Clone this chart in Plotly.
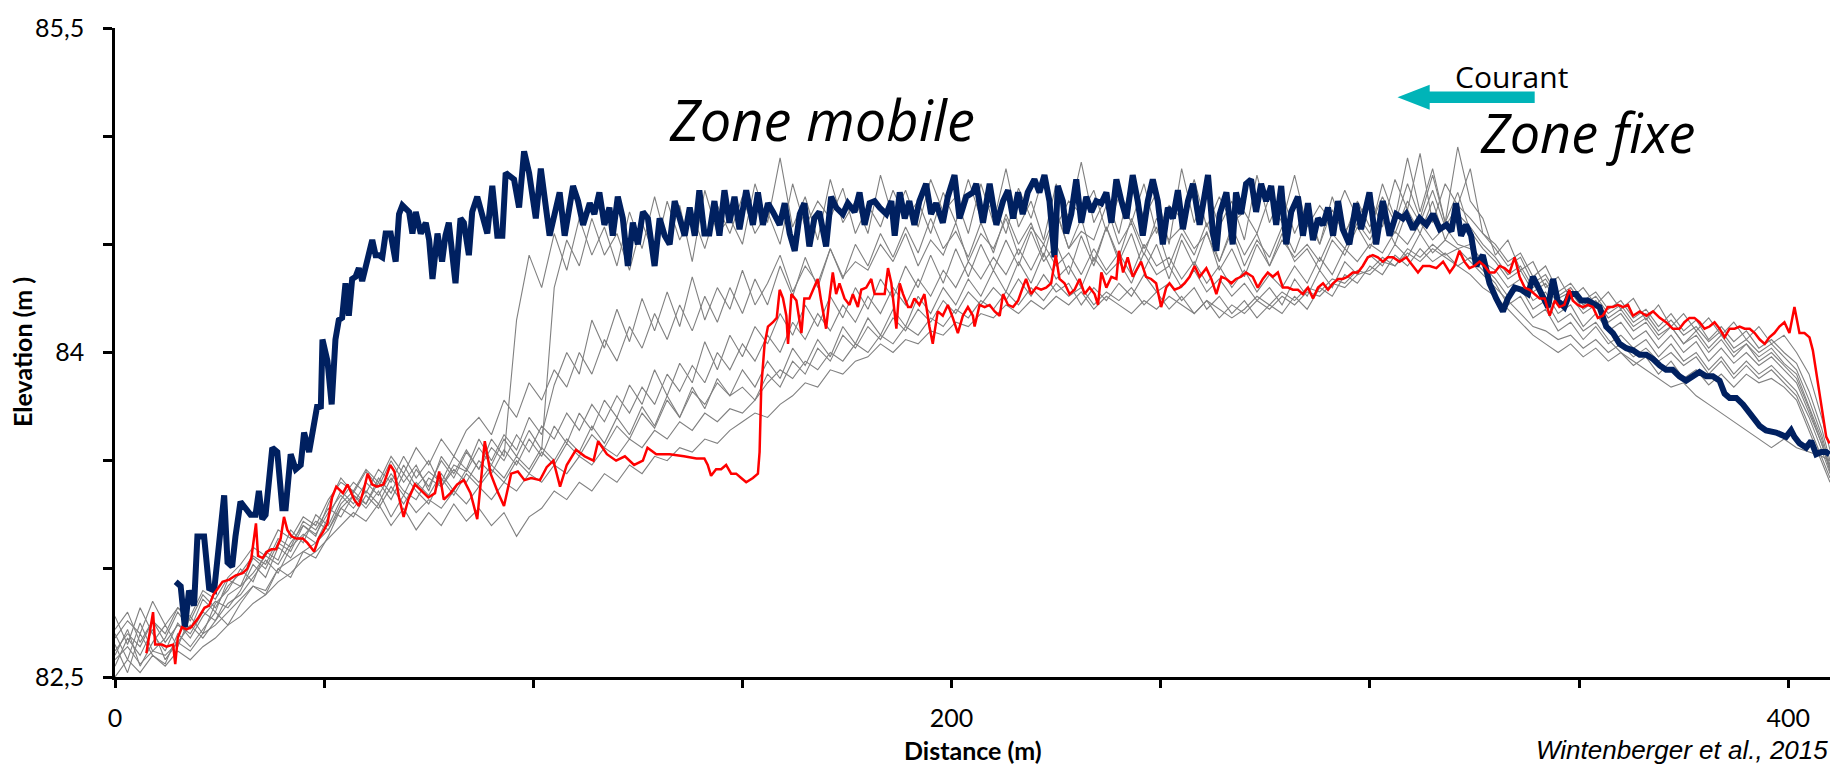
import plotly.graph_objects as go

# ---------------- data ----------------
# thick navy profile: (distance m, elevation m)
BLUE = [
    (14.5, 82.94), (15.7, 82.92), (16.7, 82.73), (17.7, 82.90), (18.9, 82.83), (19.7, 83.15), (21.3, 83.15),
    (22.5, 82.91), (23.7, 82.90), (24.9, 83.15), (26.1, 83.34), (26.9, 83.03), (28.0, 83.01), (28.8, 83.15),
    (30.0, 83.31), (31.2, 83.28), (32.4, 83.25), (33.6, 83.25), (34.4, 83.36), (35.2, 83.23), (36.0, 83.25),
    (37.6, 83.56), (38.8, 83.54), (40.0, 83.28), (40.8, 83.28), (42.0, 83.53), (43.2, 83.46), (44.4, 83.48),
    (45.2, 83.63), (46.4, 83.54), (47.2, 83.64), (48.4, 83.76), (49.2, 83.74), (49.6, 84.06), (50.8, 83.96),
    (51.8, 83.76), (52.7, 84.06), (53.5, 84.15), (54.3, 84.16), (55.1, 84.32), (55.9, 84.17), (56.7, 84.34),
    (57.5, 84.35), (58.3, 84.39), (59.1, 84.33), (59.9, 84.40), (60.7, 84.44), (61.5, 84.52), (62.3, 84.45),
    (63.1, 84.45), (63.9, 84.44), (64.7, 84.55), (65.9, 84.55), (67.1, 84.42), (67.9, 84.64), (68.7, 84.68),
    (70.3, 84.65), (71.1, 84.55), (71.9, 84.65), (73.1, 84.55), (74.3, 84.60), (75.1, 84.52), (75.9, 84.34),
    (77.1, 84.55), (78.2, 84.42), (79.0, 84.54), (79.8, 84.60), (80.6, 84.42), (81.4, 84.32), (82.6, 84.62),
    (83.4, 84.60), (84.6, 84.45), (85.4, 84.65), (86.6, 84.72), (87.8, 84.64), (89.0, 84.55), (90.2, 84.77),
    (91.4, 84.54), (92.6, 84.54), (93.4, 84.83), (95.4, 84.80), (96.6, 84.67), (97.8, 84.93), (99.0, 84.83),
    (100.6, 84.62), (101.8, 84.85), (103.9, 84.54), (105.1, 84.65), (106.3, 84.74), (107.5, 84.54),
    (109.5, 84.77), (110.7, 84.70), (111.9, 84.59), (113.5, 84.69), (114.6, 84.64), (115.8, 84.74),
    (117.0, 84.59), (118.2, 84.67), (119.0, 84.54), (120.2, 84.72), (121.4, 84.62), (122.6, 84.40),
    (123.8, 84.60), (125.0, 84.50), (126.2, 84.65), (127.4, 84.62), (129.0, 84.40), (130.2, 84.62),
    (131.4, 84.54), (132.6, 84.50), (133.8, 84.70), (135.0, 84.62), (136.2, 84.54), (137.4, 84.67),
    (138.6, 84.54), (139.7, 84.75), (140.9, 84.55), (142.1, 84.55), (143.3, 84.70), (144.5, 84.54),
    (145.7, 84.75), (146.9, 84.60), (148.1, 84.72), (149.3, 84.57), (150.9, 84.75), (152.5, 84.59),
    (153.7, 84.74), (154.9, 84.59), (156.1, 84.69), (157.3, 84.65), (158.9, 84.59), (160.1, 84.69),
    (161.3, 84.55), (162.5, 84.47), (163.7, 84.64), (164.8, 84.69), (166.0, 84.49), (167.2, 84.62),
    (168.4, 84.65), (170.0, 84.49), (171.2, 84.72), (172.4, 84.67), (174.0, 84.64), (175.2, 84.69),
    (176.8, 84.65), (178.0, 84.74), (179.2, 84.59), (180.4, 84.69), (181.6, 84.70), (182.8, 84.67),
    (184.4, 84.64), (185.6, 84.70), (186.4, 84.54), (187.6, 84.74), (188.8, 84.62), (189.9, 84.70),
    (191.1, 84.59), (192.3, 84.70), (193.9, 84.78), (195.1, 84.64), (196.3, 84.69), (197.9, 84.60),
    (199.1, 84.72), (200.7, 84.82), (201.9, 84.62), (203.5, 84.72), (205.1, 84.74), (205.9, 84.78),
    (207.5, 84.60), (209.1, 84.78), (210.7, 84.59), (212.3, 84.70), (213.5, 84.75), (214.7, 84.62),
    (215.9, 84.74), (217.0, 84.64), (218.2, 84.74), (219.8, 84.80), (221.0, 84.74), (222.2, 84.82),
    (223.4, 84.70), (224.6, 84.44), (225.4, 84.77), (226.6, 84.70), (227.4, 84.55), (228.6, 84.64),
    (229.8, 84.80), (231.0, 84.60), (232.2, 84.72), (233.4, 84.65), (234.6, 84.70), (235.8, 84.69),
    (237.0, 84.74), (238.2, 84.60), (239.4, 84.80), (240.6, 84.70), (241.8, 84.62), (243.3, 84.82),
    (244.5, 84.70), (245.7, 84.54), (246.9, 84.70), (248.1, 84.80), (249.3, 84.70), (250.5, 84.50),
    (251.7, 84.67), (252.9, 84.62), (254.1, 84.75), (255.3, 84.57), (256.5, 84.70), (257.7, 84.78),
    (259.3, 84.59), (261.3, 84.82), (262.5, 84.55), (263.3, 84.47), (264.1, 84.64), (265.7, 84.74),
    (267.2, 84.50), (268.0, 84.74), (269.2, 84.64), (270.4, 84.78), (271.6, 84.80), (272.8, 84.65),
    (274.0, 84.78), (275.2, 84.70), (276.4, 84.77), (277.6, 84.59), (278.8, 84.77), (280.0, 84.50),
    (281.2, 84.65), (282.8, 84.72), (284.0, 84.54), (285.2, 84.69), (286.4, 84.52), (287.6, 84.62),
    (288.8, 84.59), (290.0, 84.67), (291.2, 84.54), (292.4, 84.70), (293.5, 84.57), (295.1, 84.50),
    (296.7, 84.69), (297.9, 84.57), (299.9, 84.74), (301.5, 84.50), (303.1, 84.70), (304.7, 84.54),
    (306.3, 84.64), (307.9, 84.62), (308.7, 84.64), (310.3, 84.57), (311.9, 84.62), (313.5, 84.59),
    (315.1, 84.64), (316.7, 84.57), (318.3, 84.59), (319.5, 84.56), (320.6, 84.69), (321.8, 84.54),
    (323.0, 84.59), (324.2, 84.54), (325.4, 84.40), (327.0, 84.45), (328.6, 84.32), (330.2, 84.25),
    (331.8, 84.19), (333.0, 84.25), (334.6, 84.30), (336.2, 84.29), (337.8, 84.27), (339.0, 84.35),
    (340.2, 84.30), (341.4, 84.25), (342.6, 84.21), (343.8, 84.34), (344.9, 84.24), (346.5, 84.21),
    (347.7, 84.27), (349.3, 84.27), (350.5, 84.24), (352.1, 84.24), (353.7, 84.22), (354.9, 84.21),
    (356.5, 84.12), (358.1, 84.09), (359.7, 84.04), (361.3, 84.02), (362.9, 84.01), (364.5, 83.99),
    (366.1, 83.99), (367.7, 83.97), (369.3, 83.94), (370.8, 83.92), (372.4, 83.92), (374.0, 83.89),
    (375.6, 83.87), (377.2, 83.89), (378.8, 83.91), (380.4, 83.89), (382.0, 83.89), (383.6, 83.87),
    (384.8, 83.81), (386.0, 83.79), (387.6, 83.79), (389.2, 83.76), (390.4, 83.73), (391.6, 83.71),
    (393.2, 83.66), (394.7, 83.64), (397.1, 83.63), (399.5, 83.61), (400.7, 83.64), (401.5, 83.61),
    (402.7, 83.58), (404.3, 83.56), (405.5, 83.59), (406.7, 83.53), (407.9, 83.54), (409.1, 83.54),
    (409.9, 83.53),
]

# red profile
RED = [
    (7.5, 82.61), (9.1, 82.80), (9.6, 82.65), (11.2, 82.65), (12.3, 82.64), (13.9, 82.65), (14.4, 82.56),
    (15.0, 82.68), (16.0, 82.73), (17.1, 82.72), (18.2, 82.73), (19.8, 82.77), (21.4, 82.82), (22.5, 82.83),
    (23.5, 82.88), (24.6, 82.91), (25.7, 82.94), (27.3, 82.95), (28.9, 82.97), (30.5, 82.98), (31.6, 83.00),
    (32.6, 83.05), (33.7, 83.21), (34.2, 83.06), (35.3, 83.05), (36.4, 83.08), (37.4, 83.09), (38.5, 83.09),
    (39.6, 83.14), (40.4, 83.24), (41.2, 83.18), (42.2, 83.15), (43.3, 83.14), (44.9, 83.14), (46.0, 83.12),
    (47.6, 83.08), (48.7, 83.14), (49.7, 83.17), (50.8, 83.21), (51.9, 83.33), (52.9, 83.38), (54.5, 83.35),
    (55.6, 83.39), (57.2, 83.32), (58.3, 83.29), (59.4, 83.36), (60.4, 83.44), (61.5, 83.39), (62.6, 83.38),
    (64.2, 83.39), (65.8, 83.48), (66.8, 83.45), (67.9, 83.33), (69.0, 83.24), (70.1, 83.32), (71.7, 83.39),
    (73.3, 83.36), (74.9, 83.33), (76.5, 83.35), (77.5, 83.45), (78.6, 83.32), (80.2, 83.35), (81.8, 83.39),
    (83.4, 83.41), (85.0, 83.35), (86.6, 83.23), (87.7, 83.45), (88.4, 83.59), (89.8, 83.44), (91.4, 83.36),
    (93.0, 83.29), (94.7, 83.44), (96.3, 83.45), (97.9, 83.41), (99.5, 83.42), (101.6, 83.41), (103.2, 83.47),
    (104.8, 83.50), (106.4, 83.38), (108.0, 83.48), (110.2, 83.55), (112.3, 83.52), (114.4, 83.50),
    (115.5, 83.59), (117.6, 83.53), (119.8, 83.50), (121.9, 83.52), (124.1, 83.48), (126.2, 83.50),
    (127.3, 83.56), (129.4, 83.53), (132.6, 83.53), (136.0, 83.52), (139.0, 83.51), (140.9, 83.51),
    (141.7, 83.48), (142.5, 83.43), (143.7, 83.46), (144.9, 83.46), (146.1, 83.48), (147.3, 83.44),
    (148.5, 83.44), (149.7, 83.42), (150.9, 83.40), (152.5, 83.42), (153.7, 83.44), (154.1, 83.54),
    (154.5, 83.84), (155.3, 84.04), (156.1, 84.12), (157.3, 84.14), (158.2, 84.16), (158.9, 84.29),
    (159.7, 84.25), (160.5, 84.17), (160.9, 84.04), (161.7, 84.27), (162.9, 84.24), (164.1, 84.09),
    (164.8, 84.25), (166.0, 84.25), (167.2, 84.30), (168.0, 84.34), (168.8, 84.24), (170.0, 84.11),
    (170.8, 84.25), (171.6, 84.37), (172.4, 84.27), (173.2, 84.32), (174.4, 84.25), (175.6, 84.22),
    (176.4, 84.27), (177.6, 84.21), (178.4, 84.29), (179.6, 84.30), (180.8, 84.34), (181.6, 84.27),
    (182.8, 84.27), (184.0, 84.27), (184.8, 84.39), (185.6, 84.32), (186.8, 84.11), (187.6, 84.32),
    (188.4, 84.27), (189.6, 84.21), (190.3, 84.21), (191.1, 84.25), (192.3, 84.22), (193.5, 84.27),
    (194.7, 84.12), (195.5, 84.04), (196.7, 84.19), (197.9, 84.17), (199.1, 84.22), (200.3, 84.16),
    (201.5, 84.09), (202.7, 84.17), (203.9, 84.21), (205.1, 84.17), (205.5, 84.12), (206.7, 84.22),
    (207.9, 84.21), (209.1, 84.22), (210.3, 84.19), (211.5, 84.17), (212.3, 84.27), (213.5, 84.22),
    (214.7, 84.21), (215.9, 84.24), (217.0, 84.30), (217.8, 84.34), (219.0, 84.27), (220.2, 84.30),
    (221.4, 84.29), (222.6, 84.30), (223.8, 84.32), (224.9, 84.45), (225.8, 84.34), (227.0, 84.32),
    (228.2, 84.27), (229.4, 84.29), (230.6, 84.34), (231.8, 84.27), (233.0, 84.30), (234.2, 84.27),
    (235.0, 84.22), (235.8, 84.37), (237.0, 84.30), (238.2, 84.35), (239.4, 84.34), (240.0, 84.47),
    (241.0, 84.37), (242.1, 84.44), (243.3, 84.35), (244.5, 84.39), (245.3, 84.42), (246.5, 84.35),
    (247.7, 84.34), (248.9, 84.32), (250.1, 84.21), (251.3, 84.30), (252.1, 84.32), (253.3, 84.29),
    (254.5, 84.30), (255.7, 84.32), (256.9, 84.35), (258.1, 84.40), (259.3, 84.35), (260.9, 84.39),
    (262.1, 84.34), (263.3, 84.27), (264.5, 84.35), (265.7, 84.34), (266.9, 84.32), (268.0, 84.34),
    (269.2, 84.35), (270.4, 84.37), (272.0, 84.35), (273.2, 84.30), (274.4, 84.34), (275.6, 84.37),
    (276.8, 84.35), (278.0, 84.37), (279.2, 84.30), (280.4, 84.30), (281.6, 84.29), (282.8, 84.29),
    (284.0, 84.27), (285.2, 84.30), (286.4, 84.25), (287.6, 84.30), (288.8, 84.32), (290.0, 84.29),
    (291.2, 84.32), (292.4, 84.34), (293.5, 84.34), (294.7, 84.35), (295.9, 84.37), (297.1, 84.37),
    (298.3, 84.40), (299.5, 84.44), (300.7, 84.45), (301.9, 84.44), (303.1, 84.42), (304.3, 84.44),
    (305.5, 84.44), (307.1, 84.42), (308.7, 84.44), (310.3, 84.40), (311.5, 84.37), (312.7, 84.40),
    (314.3, 84.40), (315.9, 84.39), (317.5, 84.42), (319.1, 84.37), (320.2, 84.40), (321.4, 84.47),
    (322.6, 84.42), (323.8, 84.39), (325.0, 84.40), (326.2, 84.42), (327.4, 84.40), (328.6, 84.37),
    (329.8, 84.37), (331.0, 84.40), (332.2, 84.39), (333.4, 84.37), (334.6, 84.44), (335.8, 84.35),
    (337.0, 84.30), (338.2, 84.29), (339.4, 84.27), (340.6, 84.25), (341.8, 84.25), (343.0, 84.17),
    (344.2, 84.24), (345.3, 84.21), (346.5, 84.22), (347.7, 84.29), (348.5, 84.24), (349.7, 84.22),
    (350.9, 84.21), (352.1, 84.22), (353.3, 84.21), (354.5, 84.16), (355.7, 84.17), (356.9, 84.21),
    (358.1, 84.21), (359.3, 84.22), (360.5, 84.21), (361.7, 84.22), (362.9, 84.17), (364.5, 84.19),
    (366.1, 84.17), (367.7, 84.19), (369.3, 84.16), (370.8, 84.14), (372.4, 84.11), (374.0, 84.11),
    (375.2, 84.14), (376.4, 84.16), (377.6, 84.16), (378.8, 84.14), (380.0, 84.11), (381.2, 84.12),
    (382.4, 84.14), (383.6, 84.11), (384.8, 84.07), (386.0, 84.11), (387.2, 84.11), (388.4, 84.12),
    (389.6, 84.11), (390.8, 84.11), (392.0, 84.09), (393.2, 84.06), (394.4, 84.04), (395.5, 84.07),
    (396.7, 84.09), (397.9, 84.12), (399.1, 84.14), (400.3, 84.09), (401.5, 84.21), (402.7, 84.09),
    (403.9, 84.09), (405.1, 84.07), (405.9, 84.01), (406.7, 83.91), (407.5, 83.82), (408.3, 83.71),
    (409.1, 83.61), (409.9, 83.58),
]

# grey profiles, sampled every 3 m (0 ... 408) plus 410
GREY_X = list(range(0, 409, 3)) + [410]

GREY_1 = [
    82.70, 82.58, 82.75, 82.62, 82.68, 82.80, 82.72, 82.86, 82.80, 82.95,
    82.92, 83.05, 83.00, 83.12, 83.08, 83.20, 83.15, 83.30, 83.42, 83.35,
    83.45, 83.38, 83.50, 83.40, 83.48, 83.36, 83.52, 83.44, 83.55, 83.46,
    83.60, 83.52, 84.15, 84.45, 84.30, 84.55, 84.38, 84.62, 84.45, 84.58,
    84.40, 84.65, 84.48, 84.72, 84.50, 84.68, 84.42, 84.75, 84.55, 84.62,
    84.50, 84.78, 84.60, 84.90, 84.58, 84.72, 84.52, 84.80, 84.60, 84.70,
    84.55, 84.82, 84.62, 84.75, 84.58, 84.80, 84.65, 84.72, 84.55, 84.78,
    84.60, 84.85, 84.58, 84.70, 84.52, 84.78, 84.62, 84.88, 84.60, 84.72,
    84.55, 84.80, 84.62, 84.74, 84.50, 84.85, 84.60, 84.76, 84.58, 84.70,
    84.52, 84.82, 84.60, 84.74, 84.55, 84.68, 84.50, 84.72, 84.56, 84.64,
    84.55, 84.78, 84.62, 84.90, 84.65, 84.85, 84.60, 84.95, 84.70, 84.62,
    84.45, 84.52, 84.38, 84.42, 84.30, 84.35, 84.25, 84.30, 84.22, 84.28,
    84.20, 84.25, 84.15, 84.22, 84.12, 84.18, 84.10, 84.16, 84.08, 84.14,
    84.06, 84.12, 84.04, 84.08, 84.00, 83.90, 83.70, 83.55,
]
GREY_2 = [
    82.60, 82.72, 82.55, 82.66, 82.74, 82.64, 82.78, 82.70, 82.84, 82.90,
    83.00, 82.94, 83.08, 83.04, 83.18, 83.12, 83.25, 83.20, 83.32, 83.40,
    83.35, 83.46, 83.40, 83.52, 83.42, 83.50, 83.38, 83.48, 83.45, 83.56,
    83.48, 83.60, 83.52, 83.64, 83.55, 84.30, 84.52, 84.40, 84.62, 84.45,
    84.55, 84.38, 84.60, 84.45, 84.70, 84.52, 84.64, 84.48, 84.68, 84.55,
    84.72, 84.55, 84.65, 84.50, 84.78, 84.58, 84.70, 84.62, 84.76, 84.55,
    84.68, 84.58, 84.75, 84.62, 84.70, 84.55, 84.74, 84.60, 84.80, 84.62,
    84.70, 84.55, 84.76, 84.62, 84.82, 84.58, 84.70, 84.64, 84.75, 84.56,
    84.72, 84.60, 84.78, 84.55, 84.68, 84.62, 84.80, 84.58, 84.72, 84.60,
    84.65, 84.55, 84.72, 84.60, 84.82, 84.58, 84.68, 84.60, 84.75, 84.62,
    84.72, 84.58, 84.80, 84.66, 84.92, 84.60, 84.78, 84.68, 84.85, 84.55,
    84.50, 84.42, 84.46, 84.35, 84.40, 84.28, 84.32, 84.24, 84.28, 84.20,
    84.24, 84.16, 84.20, 84.12, 84.18, 84.10, 84.15, 84.06, 84.12, 84.05,
    84.10, 84.02, 84.06, 84.00, 83.95, 83.82, 83.65, 83.50,
]
GREY_3 = [
    82.78, 82.65, 82.82, 82.70, 82.62, 82.75, 82.68, 82.78, 82.85, 82.82,
    82.90, 83.02, 82.96, 83.10, 83.05, 83.15, 83.22, 83.18, 83.30, 83.36,
    83.30, 83.42, 83.35, 83.48, 83.38, 83.45, 83.40, 83.52, 83.46, 83.60,
    83.50, 83.62, 83.55, 83.70, 83.62, 83.85, 84.00, 83.90, 84.15, 84.02,
    84.20, 84.05, 84.25, 84.10, 84.28, 84.12, 84.35, 84.15, 84.30, 84.20,
    84.38, 84.22, 84.32, 84.45, 84.28, 84.40, 84.32, 84.48, 84.35, 84.42,
    84.38, 84.50, 84.42, 84.55, 84.40, 84.52, 84.45, 84.60, 84.42, 84.55,
    84.48, 84.62, 84.45, 84.58, 84.50, 84.65, 84.48, 84.56, 84.52, 84.68,
    84.50, 84.60, 84.45, 84.62, 84.52, 84.58, 84.48, 84.55, 84.42, 84.58,
    84.45, 84.55, 84.40, 84.52, 84.44, 84.50, 84.42, 84.55, 84.48, 84.60,
    84.52, 84.65, 84.55, 84.70, 84.60, 84.75, 84.58, 84.68, 84.62, 84.55,
    84.48, 84.40, 84.44, 84.32, 84.36, 84.26, 84.30, 84.22, 84.26, 84.18,
    84.22, 84.14, 84.18, 84.10, 84.15, 84.08, 84.12, 84.05, 84.10, 84.02,
    84.06, 84.00, 84.04, 83.98, 83.92, 83.78, 83.62, 83.48,
]
GREY_4 = [
    82.55, 82.68, 82.60, 82.72, 82.58, 82.66, 82.74, 82.68, 82.76, 82.84,
    82.88, 82.96, 83.04, 82.98, 83.10, 83.16, 83.12, 83.24, 83.36, 83.30,
    83.40, 83.34, 83.44, 83.36, 83.32, 83.42, 83.38, 83.46, 83.40, 83.50,
    83.44, 83.55, 83.48, 83.60, 83.52, 83.66, 83.58, 83.72, 83.64, 83.78,
    83.70, 83.85, 83.76, 83.92, 83.80, 83.95, 83.86, 84.05, 83.92, 84.08,
    83.98, 84.12, 84.04, 84.18, 84.08, 84.22, 84.12, 84.26, 84.16, 84.30,
    84.20, 84.34, 84.25, 84.40, 84.30, 84.45, 84.32, 84.48, 84.35, 84.50,
    84.38, 84.52, 84.40, 84.56, 84.42, 84.50, 84.36, 84.54, 84.40, 84.58,
    84.42, 84.55, 84.38, 84.50, 84.34, 84.52, 84.40, 84.56, 84.38, 84.48,
    84.35, 84.50, 84.40, 84.55, 84.42, 84.48, 84.38, 84.52, 84.45, 84.58,
    84.48, 84.62, 84.50, 84.66, 84.55, 84.70, 84.52, 84.64, 84.58, 84.50,
    84.44, 84.36, 84.40, 84.30, 84.34, 84.25, 84.28, 84.20, 84.24, 84.16,
    84.20, 84.12, 84.16, 84.08, 84.12, 84.04, 84.10, 84.02, 84.08, 84.00,
    84.04, 83.98, 84.02, 83.95, 83.90, 83.75, 83.60, 83.46,
]
GREY_5 = [
    82.65, 82.52, 82.70, 82.60, 82.56, 82.70, 82.64, 82.72, 82.80, 82.74,
    82.84, 82.92, 82.88, 83.00, 82.96, 83.08, 83.05, 83.15, 83.28, 83.24,
    83.34, 83.28, 83.38, 83.30, 83.40, 83.34, 83.44, 83.36, 83.46, 83.40,
    83.48, 83.42, 83.52, 83.46, 83.56, 83.50, 83.60, 83.54, 83.66, 83.58,
    83.70, 83.62, 83.75, 83.66, 83.80, 83.70, 83.84, 83.74, 83.88, 83.80,
    83.92, 83.84, 83.96, 83.88, 84.02, 83.94, 84.06, 83.98, 84.12, 84.04,
    84.16, 84.08, 84.20, 84.12, 84.26, 84.18, 84.30, 84.22, 84.34, 84.26,
    84.38, 84.28, 84.42, 84.32, 84.46, 84.34, 84.40, 84.30, 84.44, 84.36,
    84.42, 84.32, 84.46, 84.36, 84.40, 84.30, 84.38, 84.28, 84.34, 84.26,
    84.32, 84.24, 84.30, 84.22, 84.34, 84.26, 84.38, 84.30, 84.42, 84.36,
    84.45, 84.40, 84.50, 84.44, 84.55, 84.46, 84.52, 84.48, 84.50, 84.42,
    84.38, 84.30, 84.34, 84.24, 84.28, 84.18, 84.22, 84.12, 84.18, 84.10,
    84.14, 84.06, 84.10, 84.02, 84.08, 84.00, 84.05, 83.96, 84.02, 83.95,
    84.00, 83.94, 83.98, 83.92, 83.86, 83.72, 83.58, 83.45,
]
GREY_6 = [
    82.72, 82.80, 82.66, 82.76, 82.70, 82.82, 82.76, 82.88, 82.82, 82.92,
    82.98, 83.06, 83.02, 83.14, 83.10, 83.22, 83.18, 83.28, 83.24, 83.34,
    83.30, 83.40, 83.32, 83.44, 83.36, 83.30, 83.42, 83.34, 83.44, 83.38,
    83.46, 83.40, 83.50, 83.44, 83.54, 83.48, 83.58, 83.52, 83.62, 83.56,
    83.66, 83.60, 83.72, 83.65, 83.78, 83.70, 83.82, 83.76, 83.86, 83.80,
    83.84, 83.78, 83.90, 83.84, 83.96, 83.90, 84.02, 83.96, 84.08, 84.02,
    84.12, 84.06, 84.16, 84.10, 84.20, 84.14, 84.24, 84.18, 84.28, 84.22,
    84.30, 84.24, 84.34, 84.26, 84.36, 84.28, 84.32, 84.22, 84.30, 84.24,
    84.32, 84.26, 84.36, 84.28, 84.32, 84.24, 84.30, 84.20, 84.26, 84.18,
    84.24, 84.16, 84.22, 84.18, 84.26, 84.20, 84.30, 84.26, 84.36, 84.32,
    84.40, 84.36, 84.45, 84.40, 84.48, 84.42, 84.46, 84.40, 84.44, 84.38,
    84.32, 84.22, 84.26, 84.16, 84.20, 84.10, 84.14, 84.06, 84.12, 84.04,
    84.08, 84.02, 84.06, 83.98, 84.04, 83.96, 84.00, 83.92, 83.98, 83.90,
    83.96, 83.90, 83.94, 83.88, 83.82, 83.70, 83.55, 83.44,
]
GREY_7 = [
    82.58, 82.64, 82.56, 82.62, 82.60, 82.66, 82.62, 82.70, 82.74, 82.80,
    82.86, 82.92, 82.90, 83.00, 83.04, 83.08, 83.12, 83.18, 83.28, 83.34,
    83.28, 83.36, 83.24, 83.34, 83.26, 83.32, 83.28, 83.36, 83.30, 83.38,
    83.32, 83.40, 83.36, 83.44, 83.40, 83.48, 83.44, 83.52, 83.48, 83.56,
    83.52, 83.60, 83.56, 83.64, 83.60, 83.68, 83.64, 83.72, 83.68, 83.74,
    83.72, 83.78, 83.86, 83.92, 83.88, 83.96, 83.92, 84.00, 83.96, 84.04,
    84.00, 84.08, 84.04, 84.12, 84.08, 84.16, 84.12, 84.20, 84.16, 84.24,
    84.20, 84.28, 84.22, 84.30, 84.24, 84.32, 84.26, 84.30, 84.22, 84.28,
    84.24, 84.30, 84.22, 84.28, 84.20, 84.26, 84.18, 84.24, 84.16, 84.22,
    84.18, 84.24, 84.20, 84.26, 84.22, 84.28, 84.26, 84.32, 84.30, 84.36,
    84.38, 84.44, 84.40, 84.48, 84.44, 84.50, 84.45, 84.48, 84.42, 84.36,
    84.30, 84.24, 84.18, 84.12, 84.10, 84.06, 84.08, 84.02, 84.06, 84.00,
    84.04, 83.98, 84.02, 83.96, 84.00, 83.94, 83.98, 83.90, 83.96, 83.88,
    83.94, 83.88, 83.92, 83.86, 83.80, 83.66, 83.52, 83.42,
]
GREY_8 = [
    82.50, 82.58, 82.52, 82.60, 82.55, 82.62, 82.58, 82.64, 82.68, 82.74,
    82.78, 82.84, 82.88, 82.94, 82.98, 83.04, 83.08, 83.14, 83.20, 83.26,
    83.22, 83.30, 83.20, 83.28, 83.18, 83.26, 83.20, 83.30, 83.22, 83.28,
    83.20, 83.26, 83.15, 83.24, 83.28, 83.36, 83.32, 83.40, 83.36, 83.44,
    83.40, 83.48, 83.44, 83.52, 83.50, 83.56, 83.54, 83.60, 83.58, 83.64,
    83.68, 83.72, 83.70, 83.76, 83.80, 83.86, 83.84, 83.92, 83.90, 83.96,
    83.98, 84.04, 84.00, 84.06, 84.04, 84.10, 84.08, 84.14, 84.12, 84.18,
    84.16, 84.22, 84.18, 84.24, 84.20, 84.26, 84.22, 84.28, 84.20, 84.26,
    84.22, 84.18, 84.24, 84.20, 84.26, 84.22, 84.18, 84.24, 84.20, 84.16,
    84.20, 84.26, 84.22, 84.28, 84.24, 84.30, 84.28, 84.34, 84.32, 84.38,
    84.36, 84.42, 84.40, 84.46, 84.42, 84.48, 84.44, 84.40, 84.36, 84.30,
    84.26, 84.20, 84.14, 84.08, 84.04, 84.00, 84.04, 83.98, 84.02, 83.96,
    84.00, 83.94, 83.98, 83.90, 83.96, 83.88, 83.92, 83.85, 83.90, 83.84,
    83.90, 83.86, 83.88, 83.84, 83.78, 83.64, 83.50, 83.40,
]
GREY_9 = [
    82.68, 82.76, 82.70, 82.85, 82.74, 82.82, 82.78, 82.90, 82.86, 82.96,
    83.02, 83.10, 83.06, 83.18, 83.14, 83.24, 83.20, 83.32, 83.40, 83.36,
    83.46, 83.40, 83.52, 83.44, 83.56, 83.48, 83.60, 83.52, 83.64, 83.70,
    83.62, 83.78, 83.70, 83.86, 83.78, 83.92, 83.84, 84.00, 83.90, 84.06,
    83.96, 84.12, 84.02, 84.18, 84.06, 84.22, 84.10, 84.26, 84.14, 84.30,
    84.18, 84.34, 84.22, 84.40, 84.26, 84.44, 84.30, 84.48, 84.34, 84.50,
    84.40, 84.55, 84.44, 84.58, 84.46, 84.62, 84.48, 84.56, 84.44, 84.60,
    84.46, 84.64, 84.50, 84.60, 84.44, 84.66, 84.48, 84.62, 84.42, 84.58,
    84.44, 84.62, 84.48, 84.58, 84.40, 84.55, 84.45, 84.60, 84.42, 84.56,
    84.40, 84.52, 84.44, 84.58, 84.46, 84.62, 84.50, 84.66, 84.54, 84.70,
    84.58, 84.72, 84.60, 84.78, 84.62, 84.82, 84.60, 84.74, 84.56, 84.48,
    84.42, 84.34, 84.38, 84.28, 84.32, 84.22, 84.26, 84.18, 84.22, 84.14,
    84.18, 84.10, 84.14, 84.06, 84.12, 84.04, 84.08, 84.00, 84.06, 83.98,
    84.04, 83.96, 84.00, 83.94, 83.88, 83.74, 83.58, 83.47,
]
GREY_10 = [
    82.62, 82.70, 82.64, 82.76, 82.66, 82.74, 82.70, 82.80, 82.76, 82.88,
    82.92, 82.98, 83.06, 83.02, 83.12, 83.20, 83.16, 83.26, 83.34, 83.28,
    83.36, 83.30, 83.42, 83.34, 83.46, 83.38, 83.50, 83.42, 83.54, 83.46,
    83.56, 83.50, 83.62, 83.54, 83.66, 83.60, 83.72, 83.64, 83.76, 83.68,
    83.80, 83.72, 83.84, 83.76, 83.90, 83.82, 83.94, 83.86, 84.00, 83.92,
    84.04, 83.96, 84.08, 84.00, 84.14, 84.06, 84.18, 84.10, 84.22, 84.14,
    84.26, 84.18, 84.30, 84.22, 84.34, 84.26, 84.38, 84.30, 84.42, 84.34,
    84.44, 84.36, 84.48, 84.38, 84.50, 84.40, 84.46, 84.36, 84.48, 84.38,
    84.46, 84.36, 84.50, 84.40, 84.44, 84.34, 84.42, 84.32, 84.40, 84.30,
    84.38, 84.28, 84.36, 84.30, 84.40, 84.32, 84.44, 84.36, 84.48, 84.42,
    84.50, 84.46, 84.56, 84.50, 84.60, 84.52, 84.58, 84.50, 84.48, 84.40,
    84.34, 84.26, 84.30, 84.20, 84.24, 84.14, 84.18, 84.10, 84.14, 84.06,
    84.00, 83.96, 83.92, 83.88, 83.84, 83.86, 83.80, 83.76, 83.72, 83.68,
    83.64, 83.60, 83.56, 83.60, 83.56, 83.54, 83.52, 83.50,
]
GREY_LINES = [GREY_1, GREY_2, GREY_3, GREY_4, GREY_5, GREY_6, GREY_7, GREY_8, GREY_9, GREY_10]

X_TICKS = [0, 50, 100, 150, 200, 250, 300, 350, 400]
X_TICK_TEXT = ["0", "", "", "", "200", "", "", "", "400"]
Y_TICKS = [82.5, 83, 83.5, 84, 84.5, 85, 85.5]
Y_TICK_TEXT = ["82,5", "", "", "84", "", "", "85,5"]

# ---------------- styles ----------------
GREY_COLOR = "#808080"
BLUE_COLOR = "#002060"
RED_COLOR = "#FF0000"
ARROW_COLOR = "#00B4B8"
TICK_FONT = dict(family="Lato, Open Sans, sans-serif", size=25, color="black")
TITLE_FONT = dict(family="Lato, Open Sans, sans-serif", size=25, color="black")

fig = go.Figure()

for g in GREY_LINES:
    fig.add_trace(go.Scatter(
        x=GREY_X[:len(g)], y=g, mode="lines",
        line=dict(color=GREY_COLOR, width=1.1),
        hoverinfo="skip", showlegend=False,
    ))

fig.add_trace(go.Scatter(
    x=[p[0] for p in BLUE], y=[p[1] for p in BLUE], mode="lines",
    line=dict(color=BLUE_COLOR, width=6), showlegend=False,
))
fig.add_trace(go.Scatter(
    x=[p[0] for p in RED], y=[p[1] for p in RED], mode="lines",
    line=dict(color=RED_COLOR, width=2.5), showlegend=False,
))

# current arrow (data coordinates)
ARROW_TIP_X, ARROW_NECK_X, ARROW_TAIL_X = 306.6, 314.3, 339.4
ARROW_Y, SHAFT_HALF, HEAD_HALF = 85.18, 0.027, 0.058
arrow_path = (
    f"M {ARROW_TIP_X},{ARROW_Y} "
    f"L {ARROW_NECK_X},{ARROW_Y + HEAD_HALF} "
    f"L {ARROW_NECK_X},{ARROW_Y + SHAFT_HALF} "
    f"L {ARROW_TAIL_X},{ARROW_Y + SHAFT_HALF} "
    f"L {ARROW_TAIL_X},{ARROW_Y - SHAFT_HALF} "
    f"L {ARROW_NECK_X},{ARROW_Y - SHAFT_HALF} "
    f"L {ARROW_NECK_X},{ARROW_Y - HEAD_HALF} Z"
)
fig.add_shape(type="path", path=arrow_path, xref="x", yref="y",
              fillcolor=ARROW_COLOR, line=dict(width=0))

annotations = [
    dict(text="<i>Zone mobile</i>", x=169, y=85.08, xref="x", yref="y",
         font=dict(family="Open Sans", size=56, color="black"), showarrow=False,
         xanchor="center", yanchor="middle"),
    dict(text="<i>Zone fixe</i>", x=352, y=85.02, xref="x", yref="y",
         font=dict(family="Open Sans", size=54, color="black"), showarrow=False,
         xanchor="center", yanchor="middle"),
    dict(text="Courant", x=333.8, y=85.275, xref="x", yref="y",
         font=dict(family="Open Sans", size=30, color="black"), showarrow=False,
         xanchor="center", yanchor="middle"),
    dict(text="<i>Wintenberger et al., 2015</i>", x=1.0, y=-0.1385, xref="paper", yref="paper",
         font=dict(family="Liberation Sans, Arial", size=26, color="black"), showarrow=False,
         xanchor="right", yanchor="bottom"),
    dict(text="<b>Distance (m)</b>", x=0.5, y=-0.1126, xref="paper", yref="paper",
         font=TITLE_FONT, showarrow=False, xanchor="center", yanchor="middle"),
    dict(text="<b>Elevation (m )</b>", x=-0.0545, y=0.5, xref="paper", yref="paper",
         textangle=-90, font=TITLE_FONT, showarrow=False,
         xanchor="center", yanchor="middle"),
]

fig.update_layout(
    width=1847, height=768,
    margin=dict(l=115, r=17, t=20, b=91),
    paper_bgcolor="white", plot_bgcolor="white",
    showlegend=False,
    annotations=annotations,
    xaxis=dict(
        range=[0, 410], tickmode="array", tickvals=X_TICKS, ticktext=X_TICK_TEXT,
        ticks="outside", ticklen=8, tickwidth=2.5, tickcolor="black",
        showline=True, linecolor="black", linewidth=2.5,
        showgrid=False, zeroline=False, tickfont=TICK_FONT, ticklabelstandoff=9,
    ),
    yaxis=dict(
        range=[82.5, 85.5], tickmode="array", tickvals=Y_TICKS, ticktext=Y_TICK_TEXT,
        ticks="outside", ticklen=9, tickwidth=2.5, tickcolor="black",
        showline=True, linecolor="black", linewidth=2.5,
        showgrid=False, zeroline=False, tickfont=TICK_FONT, ticklabelstandoff=14,
    ),
)

fig.write_html("out.html", config={"displayModeBar": False})
